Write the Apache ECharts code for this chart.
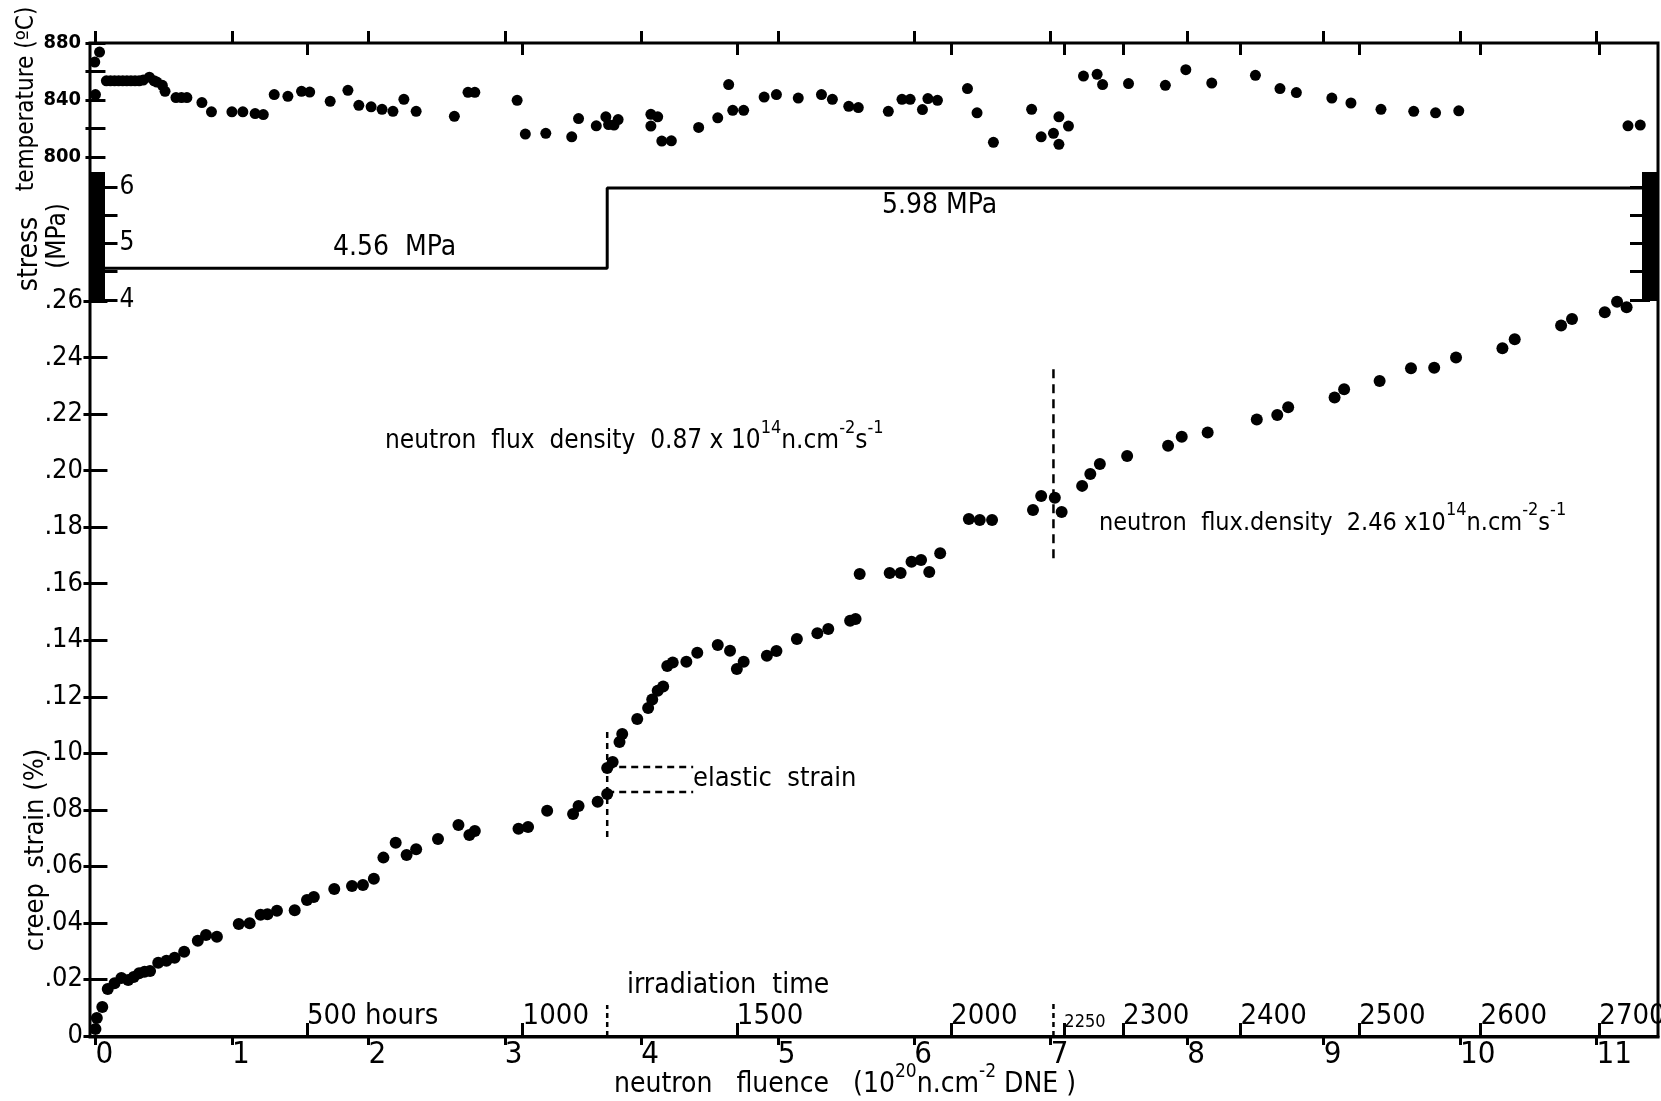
<!DOCTYPE html>
<html><head><meta charset="utf-8">
<script src="https://cdn.jsdelivr.net/npm/echarts@6/dist/echarts.min.js"></script>
<style>html,body{margin:0;padding:0;background:#fff}#c{width:1661px;height:1101px}</style>
</head><body><div id="c"></div>
<script>
const FONT = '"Liberation Sans Narrow","DejaVu Sans Condensed","Roboto Condensed","Liberation Sans",sans-serif';

// ---- data (fluence in 1e20 n/cm2) ----
const strainFluence = [0.00,0.01,0.05,0.09,0.14,0.19,0.24,0.28,0.32,0.36,0.40,0.46,0.52,0.58,0.65,0.75,0.81,0.89,1.05,1.13,1.21,1.26,1.33,1.46,1.55,1.60,1.75,1.88,1.96,2.04,2.11,2.20,2.28,2.35,2.51,2.66,2.74,2.78,3.10,3.17,3.31,3.50,3.54,3.68,3.75,3.75,3.79,3.84,3.86,3.97,4.05,4.08,4.12,4.16,4.19,4.23,4.33,4.41,4.56,4.65,4.70,4.75,4.92,4.99,5.14,5.29,5.37,5.53,5.57,5.60,5.82,5.90,5.98,6.05,6.11,6.19,6.40,6.48,6.57,6.87,6.93,7.03,7.08,7.23,7.29,7.36,7.56,7.86,7.96,8.15,8.51,8.66,8.74,9.08,9.15,9.41,9.64,9.81,9.97,10.31,10.40,10.74,10.82,11.06,11.15,11.22,11.43];
const strainValue = [0.0025,0.0064,0.0103,0.0166,0.0187,0.0205,0.0198,0.0209,0.0222,0.0227,0.0230,0.0259,0.0266,0.0277,0.0298,0.0337,0.0357,0.0351,0.0396,0.0399,0.0429,0.0431,0.0443,0.0445,0.0481,0.0492,0.0520,0.0531,0.0534,0.0556,0.0631,0.0684,0.0640,0.0661,0.0697,0.0746,0.0711,0.0725,0.0733,0.0739,0.0797,0.0785,0.0814,0.0829,0.0856,0.0948,0.0969,0.1040,0.1068,0.1121,0.1160,0.1190,0.1221,0.1236,0.1309,0.1321,0.1324,0.1356,0.1383,0.1363,0.1298,0.1324,0.1345,0.1362,0.1404,0.1425,0.1440,0.1469,0.1475,0.1634,0.1638,0.1638,0.1678,0.1684,0.1641,0.1708,0.1829,0.1825,0.1825,0.1861,0.1910,0.1904,0.1854,0.1946,0.1988,0.2023,0.2052,0.2088,0.2120,0.2135,0.2181,0.2197,0.2224,0.2259,0.2288,0.2317,0.2362,0.2364,0.2400,0.2433,0.2465,0.2513,0.2536,0.2560,0.2597,0.2578,0.2630];

const tempFluence = [-0.005,0.00,0.03,0.08,0.11,0.14,0.17,0.20,0.23,0.26,0.29,0.32,0.35,0.395,0.43,0.45,0.49,0.51,0.59,0.63,0.67,0.78,0.85,1.00,1.08,1.17,1.23,1.31,1.41,1.51,1.57,1.72,1.85,1.93,2.02,2.10,2.18,2.26,2.35,2.63,2.73,2.78,3.09,3.15,3.30,3.49,3.54,3.67,3.74,3.76,3.80,3.83,4.07,4.07,4.12,4.15,4.22,4.42,4.56,4.64,4.67,4.75,4.90,4.99,5.15,5.32,5.40,5.52,5.59,5.81,5.91,5.97,6.06,6.10,6.17,6.39,6.46,6.58,6.86,6.93,7.02,7.06,7.06,7.13,7.24,7.34,7.38,7.57,7.84,7.99,8.18,8.50,8.68,8.80,9.06,9.20,9.42,9.66,9.82,9.99,11.23,11.32];
const tempValue = [866.6,843.8,873.6,853.5,853.5,853.5,853.5,853.5,853.5,853.5,853.5,853.5,854,856,853.5,852.6,850.3,846.1,841.7,841.7,841.7,838.2,831.7,831.7,831.7,830.5,829.8,843.8,842.6,846.1,845.6,839.1,846.8,836.3,835.2,833.5,832.1,840.5,832.1,828.6,845.4,845.4,839.8,816.1,816.6,814.2,827,821.9,828.2,822.8,822.4,826.3,830,821.7,828.2,811.2,811.4,820.8,827.5,850.8,832.8,832.8,842.1,843.8,841.4,843.8,840.5,835.6,834.7,832.1,840.5,840.5,833.3,841,839.8,848,831,810.3,833.5,814.2,816.6,828.2,808.9,821.7,856.8,858,850.8,851.5,850.3,861.3,851.9,857.3,848,845.2,841.4,837.9,833.5,832.1,831,832.4,821.9,822.4];

const stressFluence = [-0.04, 3.75, 3.75, 11.45];
const stressValue = [4.56, 4.56, 5.98, 5.98];

const fluenceTicks = [0,1,2,3,4,5,6,7,8,9,10,11];
const timeTickFluence = [1.55, 3.13, 4.70, 6.27, 7.10, 7.53, 8.39, 9.26, 10.15, 11.02];
const timeTickLabels = ['500 hours','1000','1500','2000','2250','2300','2400','2500','2600','2700'];
const tempTicks = [800, 820, 840, 860, 880];
const tempLabels = [800, 840, 880];
const stressTicks = [4, 4.5, 5, 5.5, 6];
const stressLabels = [4, 5, 6];
const fluxChangeFluence = [3.75, 7.02];
const elasticStrainLevels = [0.0863, 0.0952];
const elasticGuideEnd = 4.38;

// ---- layout ----
const L = 90, W = 1568, T = 43, H = 994;
const XMIN = -0.04, XMAX = 11.45;
const K = '#000';
const zip = (a, b) => a.map((v, i) => [v, b[i]]);

const hiddenX = (g) => ({type:'value', gridIndex:g, min:XMIN, max:XMAX, show:false});
const tickStyle = {color:K, width:3, cap:'butt'};
const dot = {color:K, opacity:1};

const option = {
  backgroundColor:'#fff',
  animation:false,
  textStyle:{fontFamily:FONT, color:K},
  grid:[
    {left:L, top:T, width:W, height:H, show:true, borderColor:K, borderWidth:3, backgroundColor:'transparent', outerBoundsMode:'none'},
    {left:L, top:T, width:W, height:129, outerBoundsMode:'none'},
    {left:L, top:172, width:W, height:129, outerBoundsMode:'none'},
    {left:L, top:301, width:W, height:735, outerBoundsMode:'none'}
  ],
  xAxis:[
    hiddenX(0),
    {type:'value', gridIndex:1, position:'top', min:XMIN, max:XMAX,
     axisLine:{show:false}, splitLine:{show:false}, axisLabel:{show:false},
     axisTick:{show:true, inside:false, length:12, customValues:fluenceTicks, lineStyle:tickStyle}},
    {type:'value', gridIndex:1, position:'top', min:XMIN, max:XMAX,
     axisLine:{show:false}, splitLine:{show:false}, axisLabel:{show:false},
     axisTick:{show:true, inside:true, length:12, customValues:timeTickFluence, lineStyle:tickStyle}},
    hiddenX(2),
    {type:'value', gridIndex:3, position:'bottom', min:XMIN, max:XMAX,
     axisLine:{show:true, lineStyle:{color:K, width:3}}, splitLine:{show:false},
     axisTick:{show:true, inside:false, length:9, customValues:fluenceTicks, lineStyle:tickStyle},
     axisLabel:{show:true, customValues:fluenceTicks, align:'left', margin:3, fontSize:31, color:K, fontFamily:FONT,
       formatter:(v)=>String(Math.round(v))}},
    {type:'value', gridIndex:3, position:'bottom', min:XMIN, max:XMAX,
     axisLine:{show:false}, splitLine:{show:false},
     axisTick:{show:true, inside:true, length:13, customValues:timeTickFluence, lineStyle:tickStyle},
     axisLabel:{show:true, inside:true, customValues:timeTickFluence, align:'left', margin:5, fontSize:29, color:K, fontFamily:FONT,
       formatter:(v)=>{
         let best=0; timeTickFluence.forEach((f,i)=>{ if(Math.abs(f-v)<Math.abs(timeTickFluence[best]-v)) best=i; });
         const t = timeTickLabels[best];
         return t==='2250' ? '{s|'+t+'}' : t;
       },
       rich:{s:{fontSize:18, fontFamily:FONT, color:K, padding:[8,0,0,0]}}}}
  ],
  yAxis:[
    {type:'value', gridIndex:0, show:false},
    {type:'value', gridIndex:1, position:'left', min:789.5, max:880,
     axisLine:{show:false}, splitLine:{show:false},
     axisTick:{show:true, inside:true, length:10, customValues:tempTicks, lineStyle:tickStyle},
     axisLabel:{show:true, customValues:tempLabels, margin:9, fontSize:20, fontWeight:'bold', color:K, fontFamily:FONT}},
    {type:'value', gridIndex:1, position:'right', min:789.5, max:880,
     axisLine:{show:false}, splitLine:{show:false}, axisLabel:{show:false},
     axisTick:{show:true, inside:true, length:10, customValues:tempTicks, lineStyle:tickStyle}},
    {type:'value', gridIndex:2, position:'left', offset:-7.5, min:3.98, max:6.265,
     axisLine:{show:true, lineStyle:{color:K, width:15, cap:'butt'}}, splitLine:{show:false},
     axisTick:{show:true, inside:true, length:20, customValues:stressTicks, lineStyle:tickStyle},
     axisLabel:{show:true, inside:true, customValues:stressLabels, margin:22, fontSize:26, color:K, fontFamily:FONT}},
    {type:'value', gridIndex:2, position:'right', offset:-8, min:3.98, max:6.265,
     axisLine:{show:true, lineStyle:{color:K, width:16, cap:'butt'}}, splitLine:{show:false}, axisLabel:{show:false},
     axisTick:{show:true, inside:true, length:20, customValues:stressTicks, lineStyle:tickStyle}},
    {type:'value', gridIndex:3, position:'left', min:0, max:0.26, interval:0.02,
     axisLine:{show:false}, splitLine:{show:false},
     axisTick:{show:true, inside:true, length:12, lineStyle:tickStyle},
     axisLabel:{show:true, margin:7, fontSize:27, color:K, fontFamily:FONT,
       formatter:(v)=> v===0 ? '0' : v.toFixed(2).replace(/^0/,'')}},
    {type:'value', gridIndex:3, position:'right', min:0, max:0.26, interval:0.02,
     axisLine:{show:false}, splitLine:{show:false}, axisLabel:{show:false},
     axisTick:{show:true, inside:true, length:12, lineStyle:tickStyle}}
  ],
  series:[
    {type:'scatter', xAxisIndex:1, yAxisIndex:1, data:zip(tempFluence, tempValue), symbolSize:11, itemStyle:dot, z:5},
    {type:'line', xAxisIndex:3, yAxisIndex:3, data:zip(stressFluence, stressValue), showSymbol:false, symbol:'none', lineStyle:{color:K, width:3}, z:3},
    {type:'scatter', xAxisIndex:4, yAxisIndex:5, data:zip(strainFluence, strainValue), symbolSize:12, itemStyle:dot, z:5},
    {type:'line', xAxisIndex:4, yAxisIndex:5, data:[[fluxChangeFluence[0],0.0704],[fluxChangeFluence[0],0.1086]], symbol:'none', lineStyle:{color:K, width:2.5, type:[6,5]}},
    {type:'line', xAxisIndex:4, yAxisIndex:5, data:[[fluxChangeFluence[0],elasticStrainLevels[0]],[elasticGuideEnd,elasticStrainLevels[0]]], symbol:'none', lineStyle:{color:K, width:2.5, type:[7,5]}},
    {type:'line', xAxisIndex:4, yAxisIndex:5, data:[[fluxChangeFluence[0],elasticStrainLevels[1]],[elasticGuideEnd,elasticStrainLevels[1]]], symbol:'none', lineStyle:{color:K, width:2.5, type:[7,5]}},
    {type:'line', xAxisIndex:4, yAxisIndex:5, data:[[fluxChangeFluence[1],0.169],[fluxChangeFluence[1],0.238]], symbol:'none', lineStyle:{color:K, width:2.5, type:[9,6]}},
    {type:'line', xAxisIndex:4, yAxisIndex:5, data:[[fluxChangeFluence[0],0],[fluxChangeFluence[0],0.011]], symbol:'none', lineStyle:{color:K, width:2.5, type:[5,4]}},
    {type:'line', xAxisIndex:4, yAxisIndex:5, data:[[fluxChangeFluence[1],0],[fluxChangeFluence[1],0.012]], symbol:'none', lineStyle:{color:K, width:2.5, type:[5,4]}}
  ],
  graphic:[
    {type:'text', x:27, y:99, rotation:Math.PI/2, style:{text:'temperature (ºC)', fontSize:24, fontFamily:FONT, fill:K, align:'center', verticalAlign:'middle'}},
    {type:'text', x:30, y:254, rotation:Math.PI/2, style:{text:'stress', fontSize:28, fontFamily:FONT, fill:K, align:'center', verticalAlign:'middle'}},
    {type:'text', x:58, y:236, rotation:Math.PI/2, style:{text:'(MPa)', fontSize:26, fontFamily:FONT, fill:K, align:'center', verticalAlign:'middle'}},
    {type:'text', x:36, y:850, rotation:Math.PI/2, style:{text:'creep  strain (%)', fontSize:27, fontFamily:FONT, fill:K, align:'center', verticalAlign:'middle'}},
    {type:'text', x:333, y:248, style:{text:'4.56  MPa', fontSize:28, fontFamily:FONT, fill:K, align:'left', verticalAlign:'middle'}},
    {type:'text', x:882, y:206, style:{text:'5.98 MPa', fontSize:28, fontFamily:FONT, fill:K, align:'left', verticalAlign:'middle'}},
    {type:'text', x:385, y:441, style:{text:'neutron  flux  density  0.87 x 10{sup|14}n.cm{sup|-2}s{sup|-1}', fontSize:26, lineHeight:44, fontFamily:FONT, fill:K, align:'left', verticalAlign:'middle',
      rich:{sup:{fontSize:18, lineHeight:18, verticalAlign:'top', fontFamily:FONT, fill:K}}}},
    {type:'text', x:1099, y:523, style:{text:'neutron  flux.density  2.46 x10{sup|14}n.cm{sup|-2}s{sup|-1}', fontSize:25, lineHeight:44, fontFamily:FONT, fill:K, align:'left', verticalAlign:'middle',
      rich:{sup:{fontSize:18, lineHeight:18, verticalAlign:'top', fontFamily:FONT, fill:K}}}},
    {type:'text', x:693, y:779, style:{text:'elastic  strain', fontSize:27, fontFamily:FONT, fill:K, align:'left', verticalAlign:'middle'}},
    {type:'text', x:627, y:986, style:{text:'irradiation  time', fontSize:28, fontFamily:FONT, fill:K, align:'left', verticalAlign:'middle'}},
    {type:'text', x:614, y:1085, style:{text:'neutron   fluence   (10{sup|20}n.cm{sup|-2} DNE )', fontSize:28, lineHeight:44, fontFamily:FONT, fill:K, align:'left', verticalAlign:'middle',
      rich:{sup:{fontSize:19, lineHeight:19, verticalAlign:'top', fontFamily:FONT, fill:K}}}}
  ]
};
const chart = echarts.init(document.getElementById('c'), null, {renderer:'canvas'});
chart.setOption(option);
</script></body></html>
